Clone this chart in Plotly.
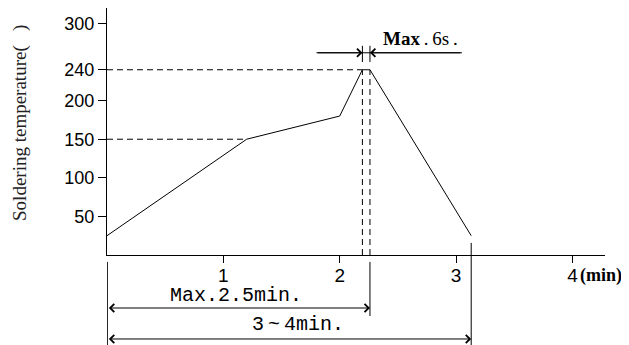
import plotly.graph_objects as go

# reflow profile (time in minutes, temperature in deg C)
time_min = [0, 1.2, 2.0, 2.195, 2.26, 3.13]
temp_c = [25, 150, 180, 240, 240, 25]

y_ticks = [50, 100, 150, 200, 240, 300]
x_ticks = [1, 2, 3, 4]
x_ticktext = ["1", "2", "3", "4"]

preheat_t, preheat_temp = 1.2, 150
peak_start, peak_end, peak_temp = 2.195, 2.26, 240
end_t = 3.13
max6s_y = 262

SANS = "Liberation Sans"
SERIF = "Liberation Serif"
MONO = "Liberation Mono"

fig = go.Figure()

fig.add_trace(go.Scatter(
    x=time_min, y=temp_c, mode="lines",
    line=dict(color="black", width=1), showlegend=False, hoverinfo="skip",
))

dash = dict(color="black", width=1, dash="6px,4px")
solid = dict(color="black", width=1)

# dashed guides
fig.add_shape(type="line", x0=0, x1=peak_start, y0=peak_temp, y1=peak_temp, line=dash)
fig.add_shape(type="line", x0=0, x1=preheat_t, y0=preheat_temp, y1=preheat_temp, line=dash)
fig.add_shape(type="line", x0=peak_start, x1=peak_start, y0=0, y1=peak_temp, line=dash)
fig.add_shape(type="line", x0=peak_end, x1=peak_end, y0=0, y1=peak_temp, line=dash)

# Max.6s dimension
fig.add_shape(type="line", x0=1.8, x1=3.05, y0=max6s_y, y1=max6s_y, line=solid)
fig.add_shape(type="line", x0=peak_start, x1=peak_start, y0=250, y1=271, line=solid)
fig.add_shape(type="line", x0=peak_end, x1=peak_end, y0=250, y1=271, line=solid)
for head, tail in [(peak_start, 1.8), (peak_end, 3.05)]:
    fig.add_annotation(x=head, y=max6s_y, ax=tail, ay=max6s_y, axref="x", ayref="y",
                       text="", showarrow=True, arrowhead=4, arrowsize=1.6,
                       arrowwidth=1, arrowcolor="black")
fig.add_annotation(x=2.69, y=280, text="<b>Max</b>\u2009.\u20096s\u2009.",
                   showarrow=False, font=dict(family=SERIF, size=19, color="black"))

# dimension lines below the axis
fig.add_shape(type="line", x0=0.003, x1=0.003, yref="paper", y0=-0.028, y1=-0.37, line=solid)
fig.add_shape(type="line", x0=peak_end, x1=peak_end, yref="paper", y0=-0.028, y1=-0.247, line=solid)
fig.add_shape(type="line", x0=end_t, x1=end_t, yref="paper", y0=0.049, y1=-0.37, line=solid)
for x_end, y_pos in [(peak_end, -0.2146), (end_t, -0.34)]:
    fig.add_annotation(x=x_end, y=y_pos, yref="paper", ax=0.003, ay=0, axref="x", ayref="pixel",
                       text="", showarrow=True, arrowhead=4, startarrowhead=4,
                       arrowside="end+start", arrowsize=1.6, startarrowsize=1.6,
                       arrowwidth=1, arrowcolor="black")
fig.add_annotation(x=1.11, y=-0.162, yref="paper", yanchor="middle", text="Max.2.5min.",
                   showarrow=False, font=dict(family=MONO, size=20, color="black"))
fig.add_annotation(x=1.64, y=-0.283, yref="paper", yanchor="middle", text="3\u2009~\u20094min.",
                   showarrow=False, font=dict(family=MONO, size=20, color="black"))

# unit label and axis title
fig.add_annotation(x=4, y=-0.081, yref="paper", xanchor="left", yanchor="middle", xshift=6,
                   text="<b>(min)</b>", showarrow=False,
                   font=dict(family=SERIF, size=18, color="black"))
fig.add_annotation(xref="paper", x=-0.175, yref="paper", y=0.534, textangle=-90,
                   xanchor="center", yanchor="middle",
                   text="Soldering temperature(   )", showarrow=False,
                   font=dict(family=SERIF, size=19, color="#222"))

fig.update_xaxes(range=[0, 4.28], tickvals=x_ticks, ticktext=x_ticktext,
                 showline=True, linecolor="black", linewidth=1, showgrid=False,
                 zeroline=False, ticks="outside", ticklen=7, tickcolor="black",
                 ticklabelstandoff=-4,
                 tickfont=dict(family=SANS, size=19, color="black"))
fig.update_yaxes(range=[0, 320], tickvals=y_ticks,
                 showline=True, linecolor="black", linewidth=1, showgrid=False,
                 zeroline=False, ticks="outside", ticklen=8, tickcolor="black",
                 tickfont=dict(family=SANS, size=18, color="black"))

# the page body adds an 8px offset, so the figure is 8px smaller than the window
fig.update_layout(width=621, height=337, margin=dict(l=99, r=24, t=0, b=90),
                  plot_bgcolor="white", paper_bgcolor="white")

fig.write_html("out.html")
